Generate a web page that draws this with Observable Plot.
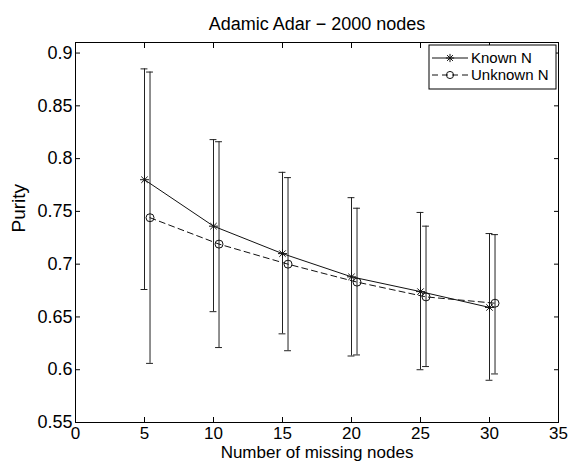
<!DOCTYPE html>
<html><head><meta charset="utf-8">
<script src="https://cdn.jsdelivr.net/npm/d3@7"></script>
<script src="https://cdn.jsdelivr.net/npm/@observablehq/plot@0.6"></script>
<style>body{margin:0;background:#fff} svg{font-family:"Liberation Sans",Arial,sans-serif}</style>
</head><body><div id="chart"></div>
<script>
const titleText = "Adamic Adar \u2212 2000 nodes";
const xLabel = "Number of missing nodes";
const yLabel = "Purity";
const xTicks = [0,5,10,15,20,25,30,35];
const yTicks = [0.55,0.6,0.65,0.7,0.75,0.8,0.85,0.9];
const seriesNames = ["Known N", "Unknown N"];

const knownX = [5,10,15,20,25,30];
const knownMean = [0.780,0.736,0.710,0.688,0.674,0.659];
const knownLow  = [0.676,0.655,0.634,0.613,0.600,0.590];
const knownHigh = [0.885,0.818,0.787,0.763,0.749,0.729];

const unknownX = [5.4,10.4,15.4,20.4,25.4,30.4];
const unknownMean = [0.744,0.719,0.700,0.683,0.669,0.663];
const unknownLow  = [0.606,0.621,0.618,0.614,0.603,0.596];
const unknownHigh = [0.882,0.816,0.782,0.753,0.736,0.728];

const capHalf = 0.25;
const rows = (xs, m, lo, hi, s) => xs.map((x,i)=>({x, y:m[i], lo:lo[i], hi:hi[i], s}));
const known = rows(knownX, knownMean, knownLow, knownHigh, seriesNames[0]);
const unknown = rows(unknownX, unknownMean, unknownLow, unknownHigh, seriesNames[1]);
const all = known.concat(unknown);

const W = 571, H = 464;
const plot = Plot.plot({
  width: W, height: H,
  marginLeft: 75, marginRight: 13, marginTop: 42, marginBottom: 42,
  style: {fontFamily: '"Liberation Sans", Arial, sans-serif', background: "#fff", color: "#000"},
  x: {domain: [0,35], ticks: xTicks},
  y: {domain: [0.55,0.91], ticks: yTicks},
  marks: [
    Plot.frame({stroke: "#000", strokeWidth: 1}),
    Plot.axisX(xTicks, {anchor: "bottom", tickSize: -5, tickPadding: 9, fontSize: 17, label: null, tickFormat: d=>String(d)}),
    Plot.axisX(xTicks, {anchor: "top", tickSize: -5, label: null, tickFormat: ()=>""}),
    Plot.axisY(yTicks, {anchor: "left", tickSize: -5, tickPadding: 8, fontSize: 18, label: null, tickFormat: d=>String(d)}),
    Plot.axisY(yTicks, {anchor: "right", tickSize: -5, label: null, tickFormat: ()=>""}),
    // error bars
    Plot.ruleX(all, {x: "x", y1: "lo", y2: "hi", stroke: "#222", strokeWidth: 1}),
    Plot.ruleY(all, {y: "lo", x1: d=>d.x-capHalf, x2: d=>d.x+capHalf, stroke: "#222", strokeWidth: 1}),
    Plot.ruleY(all, {y: "hi", x1: d=>d.x-capHalf, x2: d=>d.x+capHalf, stroke: "#222", strokeWidth: 1}),
    // lines
    Plot.line(known, {x: "x", y: "y", stroke: "#111", strokeWidth: 1}),
    Plot.line(unknown, {x: "x", y: "y", stroke: "#111", strokeWidth: 1, strokeDasharray: "6,4"}),
    Plot.dot(known, {x: "x", y: "y", symbol: "plus", r: 3, stroke: "#111", strokeWidth: 1}),
    Plot.dot(known, {x: "x", y: "y", symbol: "times", r: 3, stroke: "#111", strokeWidth: 1}),
    Plot.dot(unknown, {x: "x", y: "y", symbol: "circle", r: 4, stroke: "#111", strokeWidth: 1, fill: "none"}),
    // texts
    Plot.text([titleText], {frameAnchor: "top", dy: -25, fontSize: 18, fill: "#000"}),
    Plot.text([xLabel], {frameAnchor: "bottom", dy: 35, fontSize: 17, fill: "#000"}),
    Plot.text([yLabel], {frameAnchor: "left", dx: -57, rotate: -90, fontSize: 19, fill: "#000"})
  ]
});
document.getElementById("chart").appendChild(plot);

// legend (inside the plot, top right)
const svg = d3.select(plot);
const lg = svg.append("g").attr("font-size", 15).attr("fill", "#000").attr("text-anchor", "start");
const bx = 429, by = 45, bw = 127, bh = 44;
lg.append("rect").attr("x", bx).attr("y", by).attr("width", bw).attr("height", bh)
  .attr("fill", "#fff").attr("stroke", "#000").attr("stroke-width", 1);
const legendRows = [
  {name: seriesNames[0], dash: null, syms: [d3.symbolPlus, d3.symbolX], size: 24},
  {name: seriesNames[1], dash: "6,4", syms: [d3.symbolCircle], size: 40}
];
legendRows.forEach((r, i) => {
  const cy = by + 13 + i * 17;
  lg.append("line").attr("x1", bx + 3).attr("x2", bx + 39).attr("y1", cy).attr("y2", cy)
    .attr("stroke", "#111").attr("stroke-dasharray", r.dash);
  r.syms.forEach(sym => {
    lg.append("path").attr("d", d3.symbol(sym, r.size)())
      .attr("transform", `translate(${bx + 21},${cy})`).attr("stroke", "#111").attr("fill", "none");
  });
  lg.append("text").attr("x", bx + 42).attr("y", cy).attr("dy", "0.35em").attr("text-anchor", "start").text(r.name);
});
</script></body></html>
